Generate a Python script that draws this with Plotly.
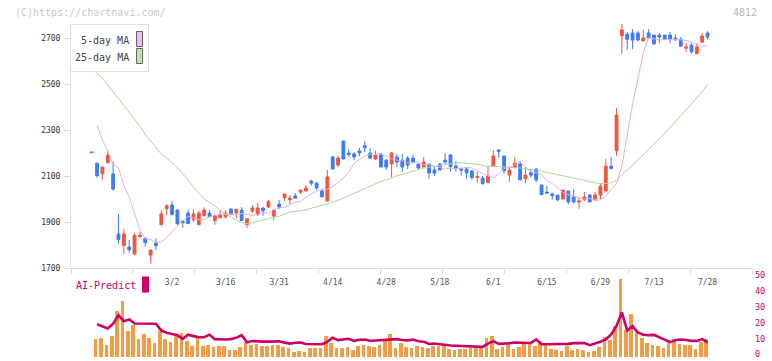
import plotly.graph_objects as go

# ---------------- data ----------------
tick_dates = ['3/2', '3/16', '3/31', '4/14', '4/28', '5/18', '6/1', '6/15', '6/29', '7/13', '7/28']
tick_index = [15, 25, 35, 45, 55, 65, 75, 85, 95, 105, 115]

opens = [2201, 2156, 2110, 2158, 2109, 1848, 1797, 1791, 1761, 1837,
         1830, 1756, 1809, 1888, 1958, 1974, 1952, 1904, 1939, 1910,
         1888, 1927, 1939, 1906, 1919, 1923, 1956, 1939, 1952, 1888,
         1948, 1932, 1961, 1965, 1926, 1978, 2006, 1997, 2013, 2030,
         2035, 2078, 2069, 2035, 1991, 2183, 2148, 2252, 2200, 2196,
         2209, 2232, 2200, 2174, 2196, 2169, 2152, 2183, 2169, 2178,
         2178, 2152, 2139, 2152, 2126, 2152, 2169, 2191, 2143, 2132,
         2130, 2122, 2093, 2091, 2071, 2143, 2213, 2187, 2104, 2136,
         2152, 2088, 2114, 2130, 2061, 2030, 2022, 2017, 2000, 2035,
         2009, 1987, 1997, 2017, 2000, 2017, 2035, 2143, 2210, 2710,
         2717, 2722, 2722, 2687, 2722, 2713, 2713, 2713, 2713, 2700,
         2695, 2656, 2669, 2632, 2682, 2722]
highs = [2204, 2156, 2139, 2211, 2161, 1935, 1870, 1822, 1851, 1858,
         1830, 1778, 1830, 1952, 1978, 1991, 1956, 1904, 1954, 1956,
         1948, 1964, 1952, 1933, 1952, 1952, 1961, 1956, 1965, 1914,
         1974, 1983, 1964, 1996, 1952, 1996, 2022, 2017, 2026, 2039,
         2061, 2083, 2074, 2039, 2126, 2187, 2187, 2252, 2217, 2203,
         2222, 2252, 2222, 2209, 2200, 2174, 2204, 2196, 2196, 2187,
         2191, 2152, 2183, 2152, 2139, 2156, 2200, 2196, 2165, 2138,
         2139, 2126, 2119, 2101, 2143, 2213, 2217, 2187, 2140, 2182,
         2165, 2139, 2130, 2135, 2061, 2056, 2027, 2017, 2039, 2035,
         2042, 2009, 2030, 2022, 2030, 2069, 2174, 2183, 2396, 2761,
         2726, 2739, 2730, 2735, 2739, 2713, 2722, 2713, 2726, 2717,
         2704, 2678, 2678, 2678, 2722, 2730]
lows = [2201, 2093, 2084, 2154, 2036, 1806, 1762, 1767, 1758, 1830,
        1793, 1723, 1778, 1888, 1930, 1932, 1885, 1875, 1893, 1899,
        1888, 1927, 1923, 1888, 1919, 1914, 1932, 1914, 1906, 1875,
        1939, 1927, 1927, 1961, 1906, 1956, 1991, 1978, 2004, 2022,
        2035, 2058, 2039, 2006, 1991, 2130, 2139, 2174, 2183, 2169,
        2187, 2204, 2174, 2169, 2139, 2126, 2096, 2139, 2117, 2130,
        2161, 2126, 2139, 2087, 2100, 2126, 2148, 2119, 2119, 2101,
        2088, 2084, 2071, 2062, 2071, 2143, 2178, 2109, 2075, 2136,
        2083, 2068, 2093, 2074, 2019, 2022, 1997, 1991, 2000, 1978,
        1981, 1958, 1991, 1987, 1996, 2000, 2035, 2132, 2188, 2632,
        2649, 2652, 2687, 2687, 2700, 2669, 2678, 2691, 2678, 2687,
        2661, 2640, 2632, 2632, 2682, 2695]
closes = [2204, 2101, 2139, 2191, 2043, 1823, 1848, 1780, 1842, 1842,
          1810, 1778, 1797, 1935, 1970, 1932, 1893, 1897, 1893, 1935,
          1939, 1952, 1923, 1927, 1930, 1939, 1932, 1956, 1906, 1914,
          1961, 1961, 1949, 1988, 1952, 1965, 2022, 2004, 2004, 2039,
          2048, 2069, 2048, 2010, 2096, 2130, 2178, 2174, 2193, 2183,
          2200, 2223, 2178, 2191, 2139, 2139, 2200, 2161, 2139, 2148,
          2161, 2135, 2161, 2113, 2113, 2126, 2161, 2141, 2132, 2126,
          2114, 2093, 2097, 2067, 2100, 2187, 2207, 2123, 2126, 2156,
          2083, 2104, 2104, 2083, 2019, 2026, 2014, 1996, 2039, 1987,
          1987, 1991, 2009, 1987, 2017, 2056, 2143, 2132, 2365, 2735,
          2695, 2691, 2691, 2700, 2700, 2675, 2704, 2695, 2695, 2693,
          2665, 2661, 2640, 2661, 2709, 2704]

ma5 = [None, 2322, 2257, 2206, 2150, 2135, 2059, 2009, 1937, 1867,
       1827, 1824, 1810, 1814, 1832, 1858, 1882, 1905, 1925, 1917,
       1910, 1911, 1923, 1928, 1935, 1934, 1934, 1930, 1937, 1933,
       1929, 1934, 1940, 1938, 1955, 1962, 1963, 1975, 1986, 1989,
       2007, 2023, 2033, 2042, 2043, 2054, 2071, 2092, 2118, 2154,
       2172, 2186, 2195, 2195, 2195, 2186, 2174, 2169, 2166, 2156,
       2157, 2162, 2149, 2149, 2144, 2137, 2130, 2135, 2131, 2135,
       2137, 2135, 2121, 2112, 2099, 2094, 2109, 2132, 2137, 2149,
       2160, 2139, 2118, 2115, 2106, 2079, 2067, 2049, 2028, 2019,
       2012, 2005, 2000, 2003, 1992, 1998, 2012, 2042, 2067, 2143,
       2286, 2414, 2524, 2635, 2702, 2695, 2691, 2694, 2695, 2694,
       2692, 2690, 2682, 2671, 2664, 2667]
ma25 = [2575, 2545, 2525, 2496, 2466, 2437, 2408, 2377, 2346, 2318,
        2280, 2250, 2222, 2195, 2178, 2158, 2138, 2110, 2080, 2052,
        2025, 2000, 1985, 1970, 1949, 1935, 1922, 1908, 1897, 1892,
        1897, 1902, 1909, 1914, 1919, 1925, 1935, 1943, 1946, 1949,
        1953, 1960, 1966, 1971, 1977, 1985, 1994, 2004, 2015, 2025,
        2035, 2047, 2056, 2067, 2076, 2083, 2093, 2101, 2107, 2115,
        2123, 2128, 2134, 2138, 2141, 2144, 2148, 2152, 2157, 2158,
        2157, 2154, 2151, 2146, 2142, 2142, 2141, 2139, 2136, 2137,
        2135, 2131, 2129, 2126, 2121, 2116, 2111, 2104, 2101, 2096,
        2091, 2084, 2079, 2073, 2069, 2066, 2068, 2070, 2082, 2107,
        2127, 2147, 2169, 2192, 2214, 2238, 2262, 2285, 2310, 2337,
        2362, 2388, 2414, 2439, 2468, 2497]

volume = [None, 11.2, 12.2, 7.8, 13.5, 29.3, 35.6, 16.6, 20.2, 11.6,
          14.7, 12.2, 9.1, 16.6, 11.6, 9.7, 13.5, 15.4, 10.3, 7.2,
          12.8, 7.2, 7.8, 6.5, 7.2, 7.2, 4.6, 4.6, 6.5, 9.7,
          7.8, 8.4, 7.2, 7.2, 7.8, 7.8, 6.5, 5.9, 3.4, 4.0,
          3.4, 5.9, 5.9, 5.9, 13.5, 9.1, 5.9, 5.9, 6.5, 4.6,
          7.2, 7.8, 7.2, 6.5, 7.8, 11.6, 14.7, 5.9, 9.1, 6.5,
          5.9, 7.2, 6.5, 5.9, 7.2, 7.2, 7.8, 5.3, 4.6, 5.3,
          5.3, 5.9, 6.5, 5.9, 12.2, 13.5, 5.3, 6.5, 8.4, 5.3,
          6.5, 9.1, 8.4, 7.2, 10.3, 7.8, 5.3, 4.6, 4.0, 7.2,
          4.6, 5.3, 4.6, 3.4, 4.0, 6.5, 12.8, 10.9, 20.0, 49.5,
          17.3, 27.4, 16.0, 12.2, 9.1, 7.8, 7.2, 5.9, 9.1, 10.3,
          8.4, 7.8, 7.8, 5.3, 9.7, 11.6]
ai_predict = [None, 21.0, 19.8, 18.3, 21.3, 26.7, 22.9, 24.0, 21.5, 21.5,
              21.5, 21.2, 21.3, 17.0, 15.6, 14.9, 14.0, 11.8, 14.4, 13.5,
              12.8, 12.8, 14.4, 11.6, 11.4, 11.4, 11.6, 12.4, 14.1, 9.6,
              10.4, 10.0, 10.0, 10.0, 10.2, 10.2, 9.4, 8.8, 9.3, 9.5,
              8.5, 8.4, 8.4, 8.4, 9.9, 12.5, 11.0, 11.3, 11.8, 10.5,
              11.2, 11.3, 10.5, 10.7, 10.9, 11.2, 11.6, 11.6, 11.0, 10.8,
              11.3, 10.3, 10.0, 8.5, 8.8, 8.3, 7.8, 7.6, 7.4, 7.2,
              7.2, 7.2, 7.0, 6.7, 8.8, 10.3, 8.6, 8.6, 9.0, 9.5,
              9.5, 9.4, 9.2, 11.4, 8.4, 8.4, 8.4, 8.4, 8.4, 8.6,
              9.1, 9.1, 9.1, 7.8, 8.8, 10.0, 11.5, 14.5, 20.0, 28.5,
              17.0, 19.8, 15.8, 14.4, 14.1, 14.3, 12.8, 11.0, 9.7, 11.0,
              11.4, 11.1, 10.5, 10.5, 11.6, 9.5]
sub_ticks = [0, 10, 20, 30, 40, 50]
price_ticks = [1700, 1900, 2100, 2300, 2500, 2700]

# ---------------- styling ----------------
RED = '#f2543f'
BLUE = '#3e7cf0'
PINK = '#e4aee6'
GREEN = '#aad89b'
ORANGE = '#f39c45'
CRIMSON = '#cc0066'
AXIS = '#dddddd'
MONO = 'DejaVu Sans Mono, monospace'

W, H = 772, 361
PL, PR = 71, 752          # plot left / right in pixels
X_RANGE = [-3.866, 123.30]
idx = list(range(len(closes)))


def px(x):
    return (x - PL) / (PR - PL)


def py(y):
    return 1 - y / H


fig = go.Figure()
fig.add_trace(go.Candlestick(
    x=idx, open=opens, high=highs, low=lows, close=closes,
    increasing=dict(line=dict(color=RED, width=1), fillcolor=RED),
    decreasing=dict(line=dict(color=BLUE, width=1), fillcolor=BLUE),
    whiskerwidth=0, hoverinfo='skip', showlegend=False,
    xaxis='x', yaxis='y'))
fig.add_trace(go.Scatter(x=idx, y=ma25, mode='lines', line=dict(color=GREEN, width=1),
                         hoverinfo='skip', showlegend=False, xaxis='x', yaxis='y'))
fig.add_trace(go.Scatter(x=idx, y=ma5, mode='lines', line=dict(color=PINK, width=1),
                         hoverinfo='skip', showlegend=False, xaxis='x', yaxis='y'))
# axis helper carrying the evenly spaced tick marks
fig.add_trace(go.Scatter(x=[0, 11], y=[price_ticks[0], price_ticks[0]], mode='markers',
                         marker=dict(opacity=0), hoverinfo='skip', showlegend=False,
                         xaxis='x3', yaxis='y'))
fig.add_trace(go.Bar(x=idx, y=volume, marker=dict(color=ORANGE, line=dict(width=0)),
                     width=0.68, offset=-0.6, hoverinfo='skip', showlegend=False,
                     xaxis='x2', yaxis='y2'))
fig.add_trace(go.Scatter(x=idx, y=ai_predict, mode='lines', line=dict(color=CRIMSON, width=2.6),
                         hoverinfo='skip', showlegend=False, xaxis='x2', yaxis='y2'))

shapes = [
    dict(type='rect', xref='paper', yref='paper', x0=px(70.5), x1=px(148.5), y0=py(71.5), y1=py(24.5),
         line=dict(color=AXIS, width=1), fillcolor='white', layer='above'),
    dict(type='rect', xref='paper', yref='paper', x0=px(136.5), x1=px(142.5), y0=py(46.5), y1=py(31.5),
         line=dict(color='#666666', width=1), fillcolor='#ecc0ec', layer='above'),
    dict(type='rect', xref='paper', yref='paper', x0=px(136.5), x1=px(142.5), y0=py(63.5), y1=py(48.5),
         line=dict(color='#666666', width=1), fillcolor='#c0e2b2', layer='above'),
    dict(type='rect', xref='paper', yref='paper', x0=px(142), x1=px(149), y0=py(292.5), y1=py(276.5),
         line=dict(width=0), fillcolor=CRIMSON, layer='above'),
]
annotations = [
    dict(text='(C)https://chartnavi.com/', x=px(13), y=py(12.5), xref='paper', yref='paper',
         xanchor='left', yanchor='middle', showarrow=False, font=dict(family=MONO, size=10, color='#c8c8c8')),
    dict(text='4812', x=px(759), y=py(12.5), xref='paper', yref='paper',
         xanchor='right', yanchor='middle', showarrow=False, font=dict(family=MONO, size=10, color='#bbbbbb')),
    dict(text='5-day MA', x=px(131), y=py(40.5), xref='paper', yref='paper',
         xanchor='right', yanchor='middle', showarrow=False, font=dict(family=MONO, size=10, color='#444444')),
    dict(text='25-day MA', x=px(131), y=py(57), xref='paper', yref='paper',
         xanchor='right', yanchor='middle', showarrow=False, font=dict(family=MONO, size=10, color='#444444')),
    dict(text='AI-Predict', x=px(74), y=py(285.5), xref='paper', yref='paper',
         xanchor='left', yanchor='middle', showarrow=False, font=dict(family=MONO, size=10, color=CRIMSON)),
]

fig.update_layout(
    width=W, height=H, autosize=False,
    margin=dict(l=PL, r=W - PR, t=0, b=0, pad=0, autoexpand=False),
    paper_bgcolor='white', plot_bgcolor='white',
    showlegend=False, boxgap=0.25, bargap=0,
    hovermode=False,
    font=dict(family=MONO),
    xaxis=dict(domain=[0, 1], range=X_RANGE, anchor='y', rangeslider=dict(visible=False),
               showline=True, linecolor=AXIS, linewidth=1, showgrid=False, zeroline=False,
               ticks='', tickvals=tick_index, ticktext=tick_dates, ticklabelstandoff=6,
               automargin=False,
               tickfont=dict(family=MONO, size=8, color='#555555')),
    xaxis3=dict(overlaying='x', anchor='y', range=[0, 11], tickvals=list(range(12)),
                ticks='outside', ticklen=5, tickcolor=AXIS, tickwidth=1, automargin=False,
                showticklabels=False, showline=False, showgrid=False, zeroline=False),
    yaxis=dict(domain=[py(268), py(24)], range=[1700, 2761], anchor='x', automargin=False,
               showline=True, linecolor=AXIS, linewidth=1, showgrid=False, zeroline=False,
               ticks='outside', ticklen=6, tickcolor=AXIS, tickvals=price_ticks,
               ticklabelstandoff=2, tickfont=dict(family=MONO, size=8, color='#333333')),
    xaxis2=dict(domain=[0, 1], range=X_RANGE, anchor='y2', visible=False, automargin=False),
    yaxis2=dict(domain=[py(357.5), py(278.3)], range=[0, 50], anchor='x2', side='right',
                automargin=False, ticklabeloverflow='allow', ticklabelshift=-3,
                showline=False, showgrid=False, zeroline=False, ticks='', tickvals=sub_ticks,
                ticklabelstandoff=2, tickfont=dict(family=MONO, size=8.5, color=CRIMSON)),
    shapes=shapes, annotations=annotations,
)

fig.write_html('out.html', config={'responsive': False})
